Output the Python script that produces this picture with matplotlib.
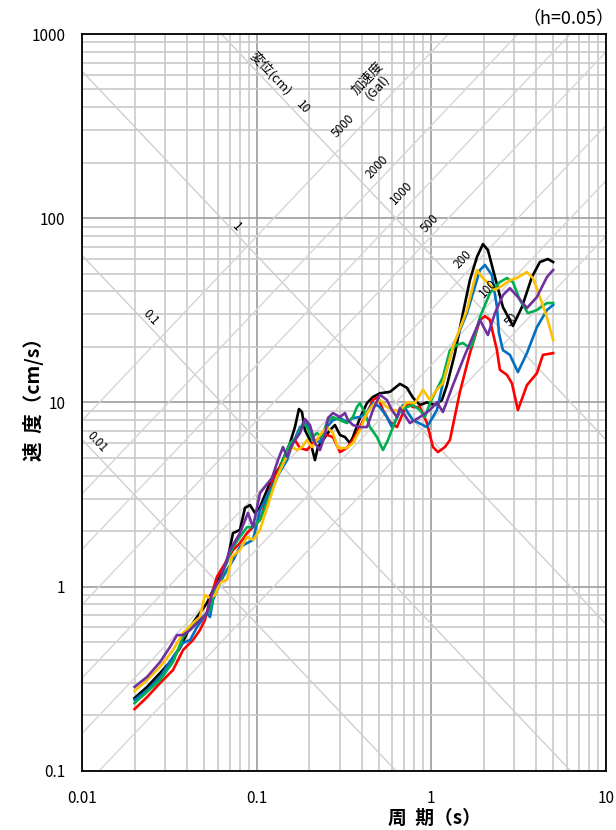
import numpy as np
import matplotlib
matplotlib.use("Agg")
import matplotlib.pyplot as plt
from matplotlib.ticker import FixedLocator, FixedFormatter, NullFormatter, LogLocator

plt.rcParams['font.family'] = ['Noto Sans CJK JP', 'DejaVu Sans']

# ---- response spectra (period s, velocity cm/s) ----
black_T = [0.02, 0.0236, 0.028, 0.0319, 0.0364, 0.0416, 0.0456, 0.052, 0.0563, 0.0617,
           0.0677, 0.0733, 0.0803, 0.0858, 0.0917, 0.0979, 0.1046, 0.1225, 0.1361, 0.1554,
           0.1659, 0.1749, 0.182, 0.1893, 0.2022, 0.216, 0.2247, 0.2401, 0.2633, 0.2812,
           0.3004, 0.3208, 0.3427, 0.3565, 0.391, 0.4289, 0.4642, 0.5091, 0.5808, 0.6627,
           0.7268, 0.7865, 0.8627, 0.9462, 1.051, 1.153, 1.232, 1.369, 1.521, 1.668,
           1.829, 1.98, 2.115, 2.32, 2.578, 2.941, 3.311, 3.778, 4.198, 4.666, 5.0]
black_V = [0.248, 0.285, 0.339, 0.389, 0.464, 0.603, 0.683, 0.814, 0.957, 1.13,
           1.36, 1.95, 2.03, 2.67, 2.77, 2.51, 2.70, 3.88, 4.46, 6.01,
           7.34, 9.20, 8.86, 7.07, 6.24, 4.86, 5.72, 6.24, 7.07, 7.53,
           6.65, 6.48, 6.01, 6.48, 8.22, 9.91, 10.7, 11.2, 11.4, 12.6,
           12.0, 10.6, 9.67, 10.0, 9.67, 10.3, 12.4, 18.5, 30.5, 46.1,
           61.5, 72.3, 67.1, 47.9, 32.9, 26.0, 32.9, 47.9, 57.8, 60.0, 57.8]

red_T = [0.02, 0.0236, 0.028, 0.0332, 0.0355, 0.0379, 0.0432, 0.0474, 0.0506, 0.0541,
         0.0593, 0.0677, 0.0733, 0.0803, 0.0881, 0.0954, 0.1046, 0.1241, 0.1398, 0.1554,
         0.1659, 0.1773, 0.1944, 0.2104, 0.2307, 0.2531, 0.2739, 0.3004, 0.3294, 0.3565,
         0.391, 0.4289, 0.4642, 0.4958, 0.5297, 0.5808, 0.637, 0.6896, 0.7364, 0.7865,
         0.8627, 0.9462, 1.024, 1.094, 1.2, 1.281, 1.462, 1.668, 1.903, 2.033,
         2.171, 2.382, 2.477, 2.717, 2.902, 3.141, 3.538, 4.035, 4.368, 5.0]
red_V = [0.216, 0.251, 0.299, 0.352, 0.399, 0.452, 0.512, 0.581, 0.658, 0.845,
         1.13, 1.39, 1.58, 1.72, 1.95, 2.10, 2.30, 3.79, 4.68, 5.65,
         6.24, 5.65, 5.51, 6.01, 6.48, 6.65, 6.48, 5.37, 5.65, 6.24,
         7.34, 8.75, 10.3, 10.7, 9.08, 7.82, 7.34, 8.75, 9.91, 9.43,
         9.43, 7.72, 5.72, 5.37, 5.72, 6.24, 11.4, 18.5, 28.0, 29.4,
         28.0, 19.2, 15.0, 14.1, 12.7, 9.08, 12.4, 14.4, 18.1, 18.5]

blue_T = [0.02, 0.0236, 0.028, 0.0332, 0.0379, 0.0416, 0.0456, 0.052, 0.0541, 0.0563,
          0.0617, 0.0677, 0.0733, 0.0803, 0.0881, 0.0954, 0.1046, 0.1309, 0.1493, 0.1616,
          0.1773, 0.1944, 0.2104, 0.2307, 0.2531, 0.2739, 0.3004, 0.3294, 0.3565, 0.391,
          0.4289, 0.4642, 0.5091, 0.5582, 0.5963, 0.637, 0.6896, 0.7865, 0.9462, 1.079,
          1.168, 1.333, 1.603, 1.903, 2.033, 2.229, 2.382, 2.445, 2.578, 2.827,
          3.141, 3.538, 4.035, 4.605, 5.0]
blue_V = [0.242, 0.274, 0.323, 0.414, 0.494, 0.512, 0.603, 0.718, 0.683, 0.845,
          1.05, 1.23, 1.39, 1.64, 1.72, 1.79, 2.60, 3.93, 4.86, 6.01,
          7.34, 7.72, 6.24, 6.09, 7.34, 8.01, 8.22, 7.82, 8.22, 8.32,
          8.86, 9.91, 9.43, 8.32, 7.34, 8.22, 9.67, 8.01, 7.34, 9.08,
          12.7, 20.0, 30.5, 52.3, 55.7, 49.1, 32.9, 23.8, 19.2, 18.1,
          14.6, 18.5, 25.6, 31.7, 33.8]

green_T = [0.02, 0.0236, 0.028, 0.0332, 0.0379, 0.0432, 0.0493, 0.0541, 0.0578, 0.0617,
           0.0677, 0.0733, 0.0803, 0.0881, 0.0954, 0.1046, 0.1309, 0.1417, 0.1554, 0.1704,
           0.1844, 0.1944, 0.2076, 0.2218, 0.2369, 0.2531, 0.2739, 0.3004, 0.3294, 0.3565,
           0.3758, 0.391, 0.4176, 0.4461, 0.4893, 0.5297, 0.5656, 0.6042, 0.6627, 0.7268,
           0.7865, 0.8627, 0.9216, 0.9844, 1.168, 1.281, 1.405, 1.521, 1.668, 1.735,
           1.903, 2.171, 2.477, 2.717, 2.941, 3.225, 3.585, 4.035, 4.605, 5.0]
green_V = [0.233, 0.268, 0.311, 0.389, 0.532, 0.618, 0.683, 0.746, 0.957, 1.05,
           1.39, 1.64, 1.86, 2.10, 2.10, 2.30, 3.88, 4.86, 6.01, 6.48,
           7.72, 7.34, 6.40, 6.81, 6.48, 7.82, 8.32, 8.01, 7.72, 8.32,
           9.43, 9.91, 8.75, 7.34, 6.48, 5.51, 6.24, 7.34, 9.08, 9.43,
           9.67, 9.08, 8.32, 9.91, 13.7, 19.2, 20.5, 21.0, 19.7, 21.0,
           29.0, 39.2, 45.0, 47.3, 45.0, 35.9, 30.5, 31.7, 34.6, 34.6]

yellow_T = [0.02, 0.0236, 0.028, 0.0332, 0.0379, 0.0432, 0.0474, 0.0506, 0.0541, 0.0578,
            0.0617, 0.0677, 0.0723, 0.0803, 0.0881, 0.0954, 0.1046, 0.1309, 0.1454, 0.1595,
            0.1704, 0.182, 0.1944, 0.2076, 0.216, 0.2307, 0.2531, 0.2739, 0.2926, 0.3294,
            0.3565, 0.391, 0.4289, 0.4642, 0.5091, 0.5582, 0.6042, 0.6627, 0.7268, 0.8075,
            0.8977, 0.9844, 1.079, 1.168, 1.333, 1.603, 1.829, 1.954, 2.087, 2.32,
            2.578, 2.827, 3.1, 3.538, 3.828, 4.198, 4.605, 5.0]
yellow_V = [0.271, 0.311, 0.366, 0.452, 0.559, 0.634, 0.683, 0.899, 0.866, 0.899,
            1.05, 1.09, 1.45, 1.58, 1.86, 1.79, 2.03, 3.93, 4.86, 5.72,
            5.51, 5.72, 6.24, 5.72, 6.01, 6.65, 7.34, 6.81, 5.65, 5.65,
            6.01, 7.07, 8.75, 9.67, 10.3, 9.43, 9.08, 9.0, 10.0, 9.91,
            11.7, 10.3, 11.7, 12.7, 20.0, 31.7, 52.3, 47.9, 45.0, 40.7,
            43.3, 46.1, 47.3, 51.0, 47.3, 37.3, 29.0, 21.8]

purple_T = [0.02, 0.0236, 0.028, 0.0319, 0.035, 0.0379, 0.0416, 0.0456, 0.052, 0.0563,
            0.0617, 0.0704, 0.0803, 0.0893, 0.0954, 0.1046, 0.1225, 0.1326, 0.1417, 0.1493,
            0.1616, 0.1773, 0.1893, 0.2022, 0.216, 0.2307, 0.2465, 0.2564, 0.2739, 0.3004,
            0.3208, 0.3338, 0.3565, 0.391, 0.4289, 0.4642, 0.5091, 0.5582, 0.5963, 0.637,
            0.6627, 0.7559, 0.8627, 0.9844, 1.079, 1.168, 1.333, 1.562, 1.903, 2.115,
            2.32, 2.578, 2.827, 3.141, 3.538, 4.035, 4.605, 5.0]
purple_V = [0.285, 0.323, 0.389, 0.469, 0.545, 0.545, 0.580, 0.634, 0.718, 0.957,
            1.09, 1.58, 1.95, 2.51, 2.10, 3.22, 3.88, 4.86, 5.72, 5.05,
            6.01, 6.81, 8.12, 7.53, 6.01, 5.51, 6.65, 8.22, 8.75, 8.32,
            8.75, 8.01, 7.53, 7.34, 7.34, 9.08, 11.0, 10.3, 9.08, 8.32,
            9.31, 7.72, 8.32, 9.08, 10.0, 8.86, 12.4, 18.1, 28.0, 23.2,
            30.5, 38.2, 41.7, 37.3, 32.5, 37.3, 47.9, 52.3]

series = [
    (black_T, black_V, "#000000"),
    (red_T, red_V, "#ff0000"),
    (blue_T, blue_V, "#0070c0"),
    (green_T, green_V, "#00b050"),
    (yellow_T, yellow_V, "#ffc000"),
    (purple_T, purple_V, "#7030a0"),
]

# tripartite guide lines
disp_lines = [0.01, 0.1, 1, 10]                      # displacement (cm)
acc_lines = [50, 100, 200, 500, 1000, 2000, 5000]   # acceleration (Gal)
# (value, text, period where the label sits, vertical shift in px)
disp_labels = [(10, "10", 0.1844, 13), (1, "1", 0.0772, 8),
               (0.1, "0.1", 0.0248, 10), (0.01, "0.01", 0.0122, 13)]
acc_labels = [(5000, "5000", 0.3125, 19), (2000, "2000", 0.489, 16),
              (1000, "1000", 0.678, 19), (500, "500", 0.984, 14),
              (200, "200", 1.521, 17), (100, "100", 2.115, 17), (50, "50", 2.902, 16)]

x_ticks = [0.01, 0.1, 1, 10]
x_ticklabels = ["0.01", "0.1", "1", "10"]
y_ticks = [0.1, 1, 10, 100, 1000]
y_ticklabels = ["0.1", "1", "10", "100", "1000"]

W, H = 616, 830
L, R, B, T = 82, 605.7, 770.7, 34
fig = plt.figure(figsize=(W / 100, H / 100), dpi=100)
ax = fig.add_axes([L / W, 1 - B / H, (R - L) / W, (B - T) / H])
ax.set_xscale("log")
ax.set_yscale("log")

ax.grid(which="minor", color="#c9c9c9", lw=1.2, zorder=0)
ax.grid(which="major", color="#9c9c9c", lw=1.2, zorder=0)
ax.set_axisbelow(True)

tt = np.array([0.01, 10.0])
for d in disp_lines:
    ax.plot(tt, 2 * np.pi * d / tt, color="#cfcfcf", lw=1.0, zorder=1)
for a in acc_lines:
    ax.plot(tt, a * tt / (2 * np.pi), color="#d6d6d6", lw=1.0, zorder=1)

for per, vel, col in series:
    ax.plot(per, vel, color=col, lw=1.9, zorder=3, solid_joinstyle="round")

ax.set_xlim(0.01, 10)
ax.set_ylim(0.1, 1000)

# slope of the guide lines on screen
ang = np.degrees(np.arctan(((B - T) / 4) / ((R - L) / 3)))
for d, s, per, dy in disp_labels:
    ax.annotate(s, (per, 2 * np.pi * d / per), xytext=(0, dy), textcoords="offset pixels",
                rotation=-ang, rotation_mode="anchor", ha="center", va="center", fontsize=8.5)
for a, s, per, dy in acc_labels:
    ax.annotate(s, (per, a * per / (2 * np.pi)), xytext=(0, dy), textcoords="offset pixels",
                rotation=ang, rotation_mode="anchor", ha="center", va="center", fontsize=8.5)
ax.text(0.361, 0.947, "変位(cm)", transform=ax.transAxes, rotation=-ang,
        rotation_mode="anchor", ha="center", va="center", fontsize=9.5)
ax.text(0.5557, 0.9335, "加速度\n(Gal)", transform=ax.transAxes, rotation=ang,
        rotation_mode="anchor", ha="center", va="center", fontsize=9.5,
        multialignment="center", linespacing=1.0)

ax.xaxis.set_major_locator(FixedLocator(x_ticks))
ax.xaxis.set_major_formatter(FixedFormatter(x_ticklabels))
ax.yaxis.set_major_locator(FixedLocator(y_ticks))
ax.yaxis.set_major_formatter(FixedFormatter(y_ticklabels))
ax.xaxis.set_minor_locator(LogLocator(base=10, subs=np.arange(2, 10)))
ax.yaxis.set_minor_locator(LogLocator(base=10, subs=np.arange(2, 10)))
ax.xaxis.set_minor_formatter(NullFormatter())
ax.yaxis.set_minor_formatter(NullFormatter())
ax.tick_params(which="both", length=0)
ax.tick_params(axis="x", pad=14, labelsize=11)
ax.tick_params(axis="y", pad=12, labelsize=11)
for sp in ax.spines.values():
    sp.set_color("black")
    sp.set_linewidth(1.3)

fig.text(434 / W, 1 - 818 / H, "周  期（s）", ha="center", va="center",
         fontsize=13.5, fontweight="bold")
fig.text(33 / W, 1 - 395 / H, "速  度（cm/s）", ha="center", va="center",
         rotation=90, fontsize=14, fontweight="bold")
fig.text(614 / W, 1 - 19 / H, "（h=0.05）", ha="right", va="center", fontsize=13)

fig.savefig("out.png", dpi=100)
